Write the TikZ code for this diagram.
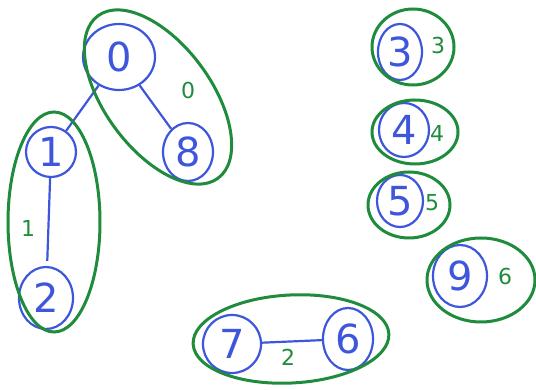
\documentclass[tikz,border=0pt]{standalone}
\usepackage{fontspec}
\setmainfont{DejaVu Sans}
\usetikzlibrary{shapes.geometric}
\definecolor{pblue}{RGB}{62,86,220}
\definecolor{pgreen}{RGB}{30,140,60}
\begin{document}
\begin{tikzpicture}[x=1pt,y=1pt,
  vtx/.style={draw=pblue,line width=2.2pt,ellipse,inner sep=0pt,text=pblue,font=\fontsize{40}{40}\selectfont},
  blob/.style={draw=pgreen,line width=3pt},
  glab/.style={text=pgreen,font=\fontsize{22}{22}\selectfont},
  edge/.style={draw=pblue,line width=2.2pt}]
\useasboundingbox (0,0) rectangle (536,390);
% vertices
\node[vtx,minimum width=72pt,minimum height=66pt] (n0) at (119,333) {0};
\node[vtx,minimum width=50pt,minimum height=58pt] (n8) at (188,238) {8};
\node[vtx,minimum width=50pt,minimum height=50pt] (n1) at (51,238) {1};
\node[vtx,minimum width=54pt,minimum height=62pt] (n2) at (46,92) {2};
\node[vtx,minimum width=44pt,minimum height=56pt] (n3) at (400,338) {3};
\node[vtx,minimum width=50pt,minimum height=54pt] (n4) at (404,260) {4};
\node[vtx,minimum width=46pt,minimum height=52pt] (n5) at (400,189) {5};
\node[vtx,minimum width=54pt,minimum height=62pt] (n9) at (460,114) {9};
\node[vtx,minimum width=58pt,minimum height=58pt] (n7) at (232,46) {7};
\node[vtx,minimum width=50pt,minimum height=62pt] (n6) at (348,51) {6};
% edges
\draw[edge] (n0) -- (n1);
\draw[edge] (n0) -- (n8);
\draw[edge,shorten >=5pt] (n1) -- (n2);
\draw[edge] (n7) -- (n6);
% component blobs
\draw[blob,rotate around={-53.5:(158,293)}] (158,293) ellipse [x radius=101, y radius=53];
\draw[blob] (54,168) ellipse [x radius=46, y radius=110];
\draw[blob] (413,343) ellipse [x radius=41, y radius=38];
\draw[blob] (415,258) ellipse [x radius=43, y radius=32];
\draw[blob] (409,185) ellipse [x radius=41, y radius=33];
\draw[blob] (481,110) ellipse [x radius=54, y radius=42];
\draw[blob,rotate around={3:(291,51)}] (291,51) ellipse [x radius=98, y radius=44];
% component labels
\node[glab] (l0) at (188,300) {0};
\node[glab] (l1) at (28,162) {1};
\node[glab] (l2) at (288,33) {2};
\node[glab] (l3) at (438,345) {3};
\node[glab] (l4) at (437,257) {4};
\node[glab] (l5) at (432,187) {5};
\node[glab] (l6) at (505,114) {6};
\end{tikzpicture}
\end{document}
